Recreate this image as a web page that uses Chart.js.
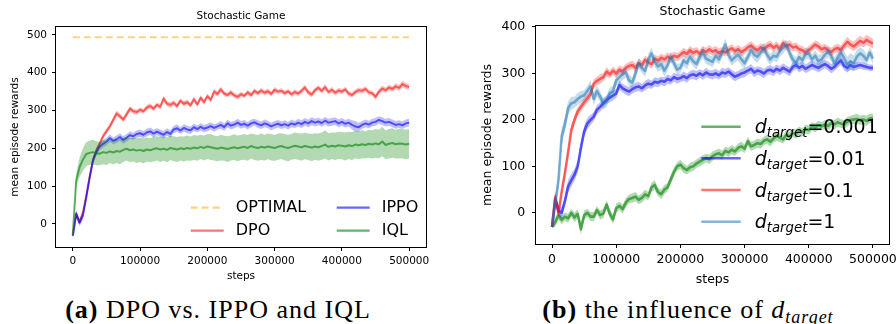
<!DOCTYPE html>
<html>
<head>
<meta charset="utf-8">
<script src="https://cdn.jsdelivr.net/npm/chart.js@4.4.1/dist/chart.umd.min.js"></script>
<style>
  html, body { margin: 0; padding: 0; background: #fff; }
  body { width: 896px; height: 324px; position: relative; overflow: hidden; }
  canvas { position: absolute; top: 0; }
  #chartA { left: 0; }
  #chartB { left: 448px; }
  .caption {
    position: absolute; top: 295px; width: 420px; text-align: center;
    font-family: 'Liberation Serif', serif; font-size: 26px; line-height: 30px;
    letter-spacing: 1px; color: #000;
  }
  #capA { left: 8px; }
  #capB { left: 478px; }
  .caption sub { font-size: 18px; vertical-align: -5px; }
</style>
</head>
<body>
<canvas id="chartA" width="448" height="290"></canvas>
<canvas id="chartB" width="460" height="290"></canvas>
<div class="caption" id="capA"><b>(a)</b> DPO vs. IPPO and IQL</div>
<div class="caption" id="capB"><b>(b)</b> the influence of <i>d</i><sub><i>target</i></sub></div>
<script>
// x grid: one logged point every 5000 env steps
const steps = Array.from({ length: 101 }, (_, i) => i * 5000);
const xTicks = [0, 100000, 200000, 300000, 400000, 500000];
const yTicksA = [0, 100, 200, 300, 400, 500];
const yTicksB = [0, 100, 200, 300, 400];

const namesA = ['OPTIMAL', 'DPO', 'IPPO', 'IQL'];
const targetValues = ['0.001', '0.01', '0.1', '1'];

// (a) DPO vs. IPPO and IQL
const optimalSteps = [0, 500000];
const optimalReward = [494, 494];

const dpoMean = [
  -30, 25, 5, 30, 75, 125, 170, 195, 213, 232,
  245, 258, 275, 292, 285, 276, 290, 305, 298, 296,
  302, 298, 308, 312, 305, 315, 310, 332, 318, 315,
  320, 312, 326, 318, 322, 314, 330, 316, 334, 322,
  338, 328, 350, 344, 356, 345, 341, 348, 340, 336,
  343, 339, 348, 341, 352, 346, 353, 347, 351, 344,
  355, 350, 352, 346, 351, 343, 349, 345, 352, 361,
  348, 342, 354, 360, 352, 362, 349, 355, 347, 353,
  350, 356, 345, 341, 349, 354, 352, 357, 348, 346,
  336, 350, 358, 354, 361, 357, 364, 360, 370, 365,
  362];
const dpoSpread = [
  3, 8, 8, 9, 9, 9, 8, 8, 8, 7,
  7, 7, 8, 8, 7, 7, 8, 7, 7, 7,
  7, 6, 7, 7, 7, 6, 7, 8, 7, 7,
  7, 7, 6, 7, 7, 7, 7, 6, 7, 7,
  7, 7, 8, 7, 7, 7, 6, 7, 7, 7,
  7, 6, 7, 7, 7, 6, 7, 7, 7, 7,
  7, 6, 7, 7, 6, 7, 7, 7, 7, 8,
  7, 7, 7, 7, 7, 8, 7, 7, 7, 7,
  7, 7, 7, 7, 7, 7, 7, 7, 7, 7,
  8, 7, 8, 7, 8, 7, 8, 8, 9, 8,
  8];

const ippoMean = [
  -32, 28, 3, 22, 70, 122, 168, 190, 205, 212,
  218, 227, 220, 224, 230, 222, 228, 235, 232, 238,
  240, 236, 242, 245, 239, 244, 240, 236, 243, 238,
  250, 253, 247, 254, 250, 248, 256, 251, 257, 252,
  255, 259, 254, 258, 262, 256, 266, 260, 263, 268,
  262, 265, 260, 266, 269, 264, 261, 266, 263, 258,
  262, 265, 261, 264, 260, 266, 263, 268, 264, 270,
  266, 272, 268, 271, 267, 273, 268, 270, 272, 266,
  270, 265, 268, 262, 258, 256, 262, 266, 263, 268,
  270, 275, 272, 268, 270, 266, 262, 264, 261, 266,
  268];
const ippoSpread = [
  3, 9, 9, 10, 10, 10, 10, 10, 10, 10,
  10, 10, 9, 10, 10, 10, 10, 10, 9, 10,
  10, 9, 10, 10, 10, 9, 10, 10, 10, 10,
  10, 10, 9, 10, 10, 10, 10, 9, 10, 10,
  10, 10, 10, 9, 10, 10, 10, 10, 10, 10,
  10, 10, 10, 10, 9, 10, 10, 10, 10, 10,
  10, 10, 10, 10, 10, 10, 9, 10, 10, 10,
  10, 10, 10, 10, 10, 10, 10, 10, 10, 10,
  10, 10, 10, 12, 14, 12, 10, 10, 10, 10,
  10, 10, 10, 10, 10, 10, 10, 10, 10, 10,
  10];

const iqlMean = [
  -28, 115, 150, 170, 185, 188, 190, 187, 186, 190,
  188, 192, 189, 193, 191, 196, 199, 195, 197, 194,
  196, 193, 197, 195, 198, 200, 197, 199, 196, 201,
  199, 197, 200, 198, 201, 199, 202, 200, 204, 201,
  205, 203, 201, 199, 202, 200, 198, 201, 203, 200,
  202, 204, 201, 206, 203, 201, 204, 202, 205, 203,
  201, 204, 206, 203, 201, 204, 207, 205, 203, 206,
  204, 202, 205, 203, 206, 210, 204, 207, 205, 208,
  207, 205, 208, 206, 210, 208, 211, 209, 212, 210,
  213, 211, 218, 209, 212, 214, 211, 213, 212, 210,
  212];
const iqlSpread = [
  3, 18, 26, 30, 32, 32, 33, 32, 31, 32,
  32, 31, 32, 32, 33, 32, 31, 32, 32, 33,
  32, 33, 32, 32, 33, 32, 33, 32, 33, 32,
  33, 33, 32, 33, 33, 32, 33, 33, 32, 33,
  33, 34, 33, 33, 34, 33, 34, 33, 34, 34,
  33, 34, 34, 33, 34, 34, 35, 34, 34, 35,
  34, 35, 34, 35, 35, 34, 35, 35, 36, 35,
  35, 36, 35, 36, 36, 37, 36, 35, 36, 36,
  36, 37, 36, 37, 36, 37, 37, 36, 37, 37,
  38, 38, 39, 38, 39, 39, 38, 39, 39, 39,
  39];

// (b) the influence of d_target
const t0001Mean = [
  -30, -20, -5, -15, -8, -12, 0, -10, -2, -35,
  -5, 0, -8, -8, 6, -5, -1, 18, -2, -14,
  10, 15, 8, 22, 30, 32, 35, 28, 32, 40,
  36, 55, 60, 45, 40, 50, 55, 72, 88, 100,
  104, 96, 92, 98, 100, 106, 110, 114, 118, 115,
  122, 126, 128, 124, 133, 130, 136, 132, 140, 143,
  138, 154, 143, 146, 150, 148, 155, 158, 153, 160,
  165, 162, 158, 168, 164, 172, 170, 176, 173, 180,
  178, 186, 183, 188, 186, 190, 187, 193, 190, 195,
  192, 190, 196, 200, 201, 202, 199, 201, 198, 203,
  204];
const t0001Spread = [
  3, 10, 10, 10, 9, 10, 9, 10, 10, 12,
  10, 9, 10, 10, 9, 10, 10, 9, 10, 10,
  10, 9, 10, 10, 9, 10, 10, 9, 10, 10,
  9, 10, 10, 9, 10, 10, 9, 10, 10, 9,
  10, 10, 9, 10, 10, 9, 10, 10, 9, 10,
  10, 9, 10, 10, 9, 10, 10, 9, 10, 10,
  9, 10, 10, 9, 10, 10, 9, 10, 10, 9,
  10, 10, 9, 10, 10, 9, 10, 10, 9, 10,
  10, 9, 10, 10, 9, 10, 10, 9, 10, 10,
  9, 10, 10, 9, 10, 11, 10, 10, 11, 10,
  10];

const t001Mean = [
  -30, 30, 5, 0, 25, 57, 70, 82, 100, 140,
  175, 192, 200, 207, 222, 228, 236, 243, 248, 252,
  257, 275, 268, 264, 261, 266, 270, 272, 268, 274,
  278, 276, 282, 280, 284, 282, 288, 285, 292, 288,
  290, 294, 290, 296, 298, 295, 300, 296, 302, 298,
  297, 300, 296, 302, 300, 304, 298, 293, 296, 300,
  302, 306, 310, 302, 306, 304, 300, 306, 308, 304,
  310, 306, 312, 308, 304, 314, 318, 312, 316, 310,
  314, 318, 315, 312, 316, 320, 316, 310, 314, 322,
  328, 316, 312, 318, 314, 316, 318, 316, 314, 312,
  312];
const t001Spread = [
  3, 14, 12, 12, 12, 14, 14, 13, 13, 14,
  12, 12, 11, 10, 10, 10, 10, 9, 10, 10,
  10, 10, 9, 10, 10, 9, 10, 10, 9, 10,
  10, 9, 10, 10, 9, 10, 10, 9, 10, 10,
  9, 10, 10, 9, 10, 10, 9, 10, 10, 9,
  10, 10, 9, 10, 10, 9, 10, 10, 9, 10,
  10, 9, 10, 10, 9, 10, 10, 9, 10, 10,
  9, 10, 10, 9, 10, 10, 9, 10, 10, 9,
  10, 10, 9, 10, 10, 9, 10, 10, 9, 10,
  10, 9, 10, 10, 9, 8, 8, 8, 7, 7,
  7];

const t01Mean = [
  -30, 35, 0, 45, 85, 130, 178, 200, 218, 228,
  238, 246, 255, 278, 284, 288, 292, 304, 298, 306,
  300, 308, 304, 312, 316, 318, 312, 322, 318, 329,
  324, 320, 332, 328, 334, 330, 336, 332, 338, 335,
  340, 346, 342, 350, 344, 348, 342, 350, 346, 352,
  347, 350, 344, 348, 345, 350, 354, 348, 352, 346,
  350, 356, 360, 354, 350, 356, 352, 358, 362, 355,
  360, 352, 365, 358, 362, 356, 358, 352, 350, 345,
  350, 356, 362, 358, 352, 355, 350, 346, 352, 355,
  350, 360, 368, 362, 358, 364, 370, 366, 372, 368,
  364];
const t01Spread = [
  3, 12, 10, 12, 12, 12, 11, 10, 10, 10,
  10, 9, 10, 10, 9, 10, 9, 10, 9, 9,
  9, 9, 10, 9, 9, 9, 10, 9, 9, 9,
  9, 10, 9, 9, 9, 9, 9, 10, 9, 9,
  9, 9, 9, 9, 10, 9, 9, 9, 9, 9,
  9, 9, 10, 9, 9, 9, 9, 9, 9, 10,
  9, 9, 9, 9, 9, 9, 10, 9, 9, 9,
  9, 9, 9, 9, 10, 9, 9, 9, 9, 9,
  9, 9, 9, 10, 9, 9, 9, 9, 9, 9,
  10, 10, 11, 10, 10, 11, 11, 10, 11, 11,
  10];

const t1Mean = [
  -30, 20, 70, 165, 190, 225, 236, 238, 245, 250,
  253, 262, 272, 245, 262, 250, 235, 240, 258, 262,
  285, 292, 298, 302, 285, 280, 300, 322, 312, 305,
  330, 343, 325, 315, 320, 306, 318, 336, 322, 308,
  312, 328, 322, 336, 326, 320, 335, 345, 332, 328,
  325, 338, 330, 345, 362, 340, 328, 335, 340, 330,
  322, 335, 350, 340, 336, 345, 355, 340, 330, 338,
  336, 348, 355, 362, 345, 330, 322, 335, 328, 342,
  343, 330, 338, 326, 330, 340, 347, 338, 322, 334,
  345, 333, 320, 326, 322, 336, 343, 338, 329, 345,
  332];
const t1Spread = [
  3, 14, 16, 18, 16, 15, 14, 12, 13, 12,
  11, 12, 13, 14, 12, 11, 12, 13, 12, 11,
  12, 13, 12, 11, 12, 12, 13, 12, 11, 12,
  13, 12, 11, 12, 12, 13, 12, 11, 12, 12,
  11, 12, 13, 12, 11, 12, 12, 13, 12, 11,
  12, 12, 11, 12, 13, 12, 11, 12, 12, 13,
  12, 11, 12, 12, 13, 12, 11, 12, 12, 11,
  12, 13, 12, 11, 12, 12, 13, 12, 11, 12,
  12, 11, 12, 13, 12, 11, 12, 12, 13, 14,
  14, 15, 16, 18, 16, 15, 14, 14, 12, 12,
  12];

// colours (matplotlib r/b/g/C0/orange with alpha)
const RED = 'rgba(255, 0, 0, 0.55)', RED_BAND = 'rgba(255, 0, 0, 0.25)';
const BLUE = 'rgba(0, 0, 255, 0.6)', BLUE_BAND = 'rgba(0, 0, 255, 0.25)';
const GREEN = 'rgba(0, 128, 0, 0.6)', GREEN_BAND = 'rgba(0, 128, 0, 0.3)';
const SKY = 'rgba(31, 119, 180, 0.55)', SKY_BAND = 'rgba(31, 119, 180, 0.25)';
const ORANGE = 'rgba(255, 165, 0, 0.5)';

Chart.defaults.font.family = "'DejaVu Sans', sans-serif";
Chart.defaults.color = '#000';

function points(xs, values) {
  return values.map((v, i) => ({ x: xs[i], y: v }));
}

// mean line plus shaded mean +/- spread
function bandSeries(label, mean, spread, line, fill, width, order) {
  const none = 'rgba(0,0,0,0)';
  return [
    { label: label + ' hi', data: points(steps, mean.map((v, i) => v + spread[i])),
      borderColor: none, borderWidth: 0, pointRadius: 0, fill: '+1', backgroundColor: fill, order: order },
    { label: label + ' lo', data: points(steps, mean.map((v, i) => v - spread[i])),
      borderColor: none, borderWidth: 0, pointRadius: 0, fill: false, order: order },
    { label: label, data: points(steps, mean), borderColor: line, borderWidth: width,
      pointRadius: 0, fill: false, order: order - 0.5, borderJoinStyle: 'round' }
  ];
}

const framePlugin = {
  id: 'frame',
  afterDraw(chart) {
    const { ctx, chartArea: a } = chart;
    ctx.save();
    ctx.strokeStyle = '#000';
    ctx.lineWidth = 1;
    ctx.strokeRect(Math.round(a.left) - 0.5, Math.round(a.top) - 0.5,
      Math.round(a.right - a.left) + 1, Math.round(a.bottom - a.top) + 1);
    ctx.restore();
  }
};

// matplotlib-style legend without frame; labels may carry a subscript
const legendPlugin = {
  id: 'mplLegend',
  afterDatasetsDraw(chart, args, opts) {
    if (!opts.items) return;
    const { ctx, chartArea: a } = chart;
    ctx.save();
    opts.items.forEach(item => {
      const x = a.left + item.dx, y = a.bottom + item.dy;
      ctx.strokeStyle = item.color;
      ctx.lineWidth = opts.lineWidth;
      ctx.setLineDash(item.dash || []);
      ctx.beginPath();
      ctx.moveTo(x, y);
      ctx.lineTo(x + opts.sample, y);
      ctx.stroke();
      ctx.setLineDash([]);
      ctx.fillStyle = '#000';
      let tx = x + opts.gap;
      if (item.sub) {
        const base = y + opts.baseShift;
        ctx.textBaseline = 'alphabetic';
        ctx.font = 'italic ' + opts.size + "px 'DejaVu Sans'";
        ctx.fillText(item.text, tx, base);
        tx += ctx.measureText(item.text).width;
        ctx.font = 'italic ' + opts.subSize + "px 'DejaVu Sans'";
        ctx.fillText(item.sub, tx, base + opts.subShift);
        tx += ctx.measureText(item.sub).width;
        ctx.font = opts.size + "px 'DejaVu Sans'";
        ctx.fillText(item.tail, tx, base);
      } else {
        ctx.textBaseline = 'middle';
        ctx.font = opts.size + "px 'DejaVu Sans'";
        ctx.fillText(item.text, tx, y);
      }
    });
    ctx.restore();
  }
};

function xScale(size, height, tickPad, titlePad) {
  return {
    type: 'linear', min: -25000, max: 525000,
    afterBuildTicks: s => { s.ticks = xTicks.map(v => ({ value: v })); },
    afterFit: s => { s.height = height; },
    ticks: { font: { size: size }, color: '#000', padding: tickPad, maxRotation: 0, autoSkip: false,
      callback: v => String(v) },
    grid: { drawOnChartArea: false, drawTicks: true, tickLength: 4, color: '#000' },
    border: { display: false },
    title: { display: true, text: 'steps', font: { size: size }, color: '#000', padding: titlePad }
  };
}

function yScale(size, width, min, max, ticks, tickPad, titlePad) {
  return {
    type: 'linear', min: min, max: max,
    afterBuildTicks: s => { s.ticks = ticks.map(v => ({ value: v })); },
    afterFit: s => { s.width = width; },
    ticks: { font: { size: size }, color: '#000', padding: tickPad, callback: v => String(v) },
    grid: { drawOnChartArea: false, drawTicks: true, tickLength: 4, color: '#000' },
    border: { display: false },
    title: { display: true, text: 'mean episode rewards', font: { size: size }, color: '#000', padding: titlePad }
  };
}

function titleOpts(size, pad) {
  return { display: true, text: 'Stochastic Game', fullSize: false, color: '#000',
    font: { size: size, weight: 'normal', lineHeight: 1.2 }, padding: pad };
}

// Chart (a)
const datasetsA = [
  { label: namesA[0], data: points(optimalSteps, optimalReward), borderColor: ORANGE, borderWidth: 2,
    borderDash: [7, 4], pointRadius: 0, fill: false, order: 50 }
].concat(
  bandSeries(namesA[1], dpoMean, dpoSpread, RED, RED_BAND, 2, 30),
  bandSeries(namesA[2], ippoMean, ippoSpread, BLUE, BLUE_BAND, 2, 20),
  bandSeries(namesA[3], iqlMean, iqlSpread, GREEN, GREEN_BAND, 2, 10)
);

new Chart(document.getElementById('chartA').getContext('2d'), {
  type: 'line',
  data: { datasets: datasetsA },
  options: {
    responsive: false, animation: false,
    layout: { padding: { left: 0, right: 22, top: 0, bottom: 0 } },
    plugins: {
      legend: { display: false }, tooltip: { enabled: false },
      title: titleOpts(10.5, { top: 10, bottom: 4.4 }),
      mplLegend: {
        sample: 33, gap: 45, lineWidth: 2.2, size: 16,
        items: [
          { text: namesA[0], color: ORANGE, dash: [7, 4], dx: 134.7, dy: -39.3 },
          { text: namesA[1], color: RED, dx: 134.7, dy: -16.3 },
          { text: namesA[2], color: BLUE, dx: 280.7, dy: -39.3 },
          { text: namesA[3], color: GREEN, dx: 280.7, dy: -16.3 }
        ]
      }
    },
    scales: {
      x: xScale(10.5, 43, 4.4, 7),
      y: yScale(10.5, 56, -61, 521, yTicksA, 5, 9)
    }
  },
  plugins: [framePlugin, legendPlugin]
});

// Chart (b)
const datasetsB = [].concat(
  bandSeries('d=' + targetValues[0], t0001Mean, t0001Spread, GREEN, GREEN_BAND, 2.6, 40),
  bandSeries('d=' + targetValues[1], t001Mean, t001Spread, BLUE, BLUE_BAND, 2.6, 30),
  bandSeries('d=' + targetValues[2], t01Mean, t01Spread, RED, RED_BAND, 2.6, 20),
  bandSeries('d=' + targetValues[3], t1Mean, t1Spread, SKY, SKY_BAND, 2.6, 10)
);

const legendColorsB = [GREEN, BLUE, RED, SKY];
const legendRowsB = [-117.3, -85.7, -54, -22.3];

new Chart(document.getElementById('chartB').getContext('2d'), {
  type: 'line',
  data: { datasets: datasetsB },
  options: {
    responsive: false, animation: false,
    layout: { padding: { left: 0, right: 19, top: 0, bottom: 0 } },
    plugins: {
      legend: { display: false }, tooltip: { enabled: false },
      title: titleOpts(12.5, { top: 4.5, bottom: 6.5 }),
      mplLegend: {
        sample: 39.4, gap: 53.4, lineWidth: 2.6, size: 19, subSize: 13.3,
        baseShift: 6.7, subShift: 4,
        items: targetValues.map((t, i) => ({
          text: 'd', sub: 'target', tail: '=' + t, color: legendColorsB[i], dx: 165.3, dy: legendRowsB[i]
        }))
      }
    },
    scales: {
      x: xScale(12.5, 46, 4.5, 3.2),
      y: yScale(12.5, 88, -67, 402, yTicksB, 6.7, 32.5)
    }
  },
  plugins: [framePlugin, legendPlugin]
});
</script>
</body>
</html>
